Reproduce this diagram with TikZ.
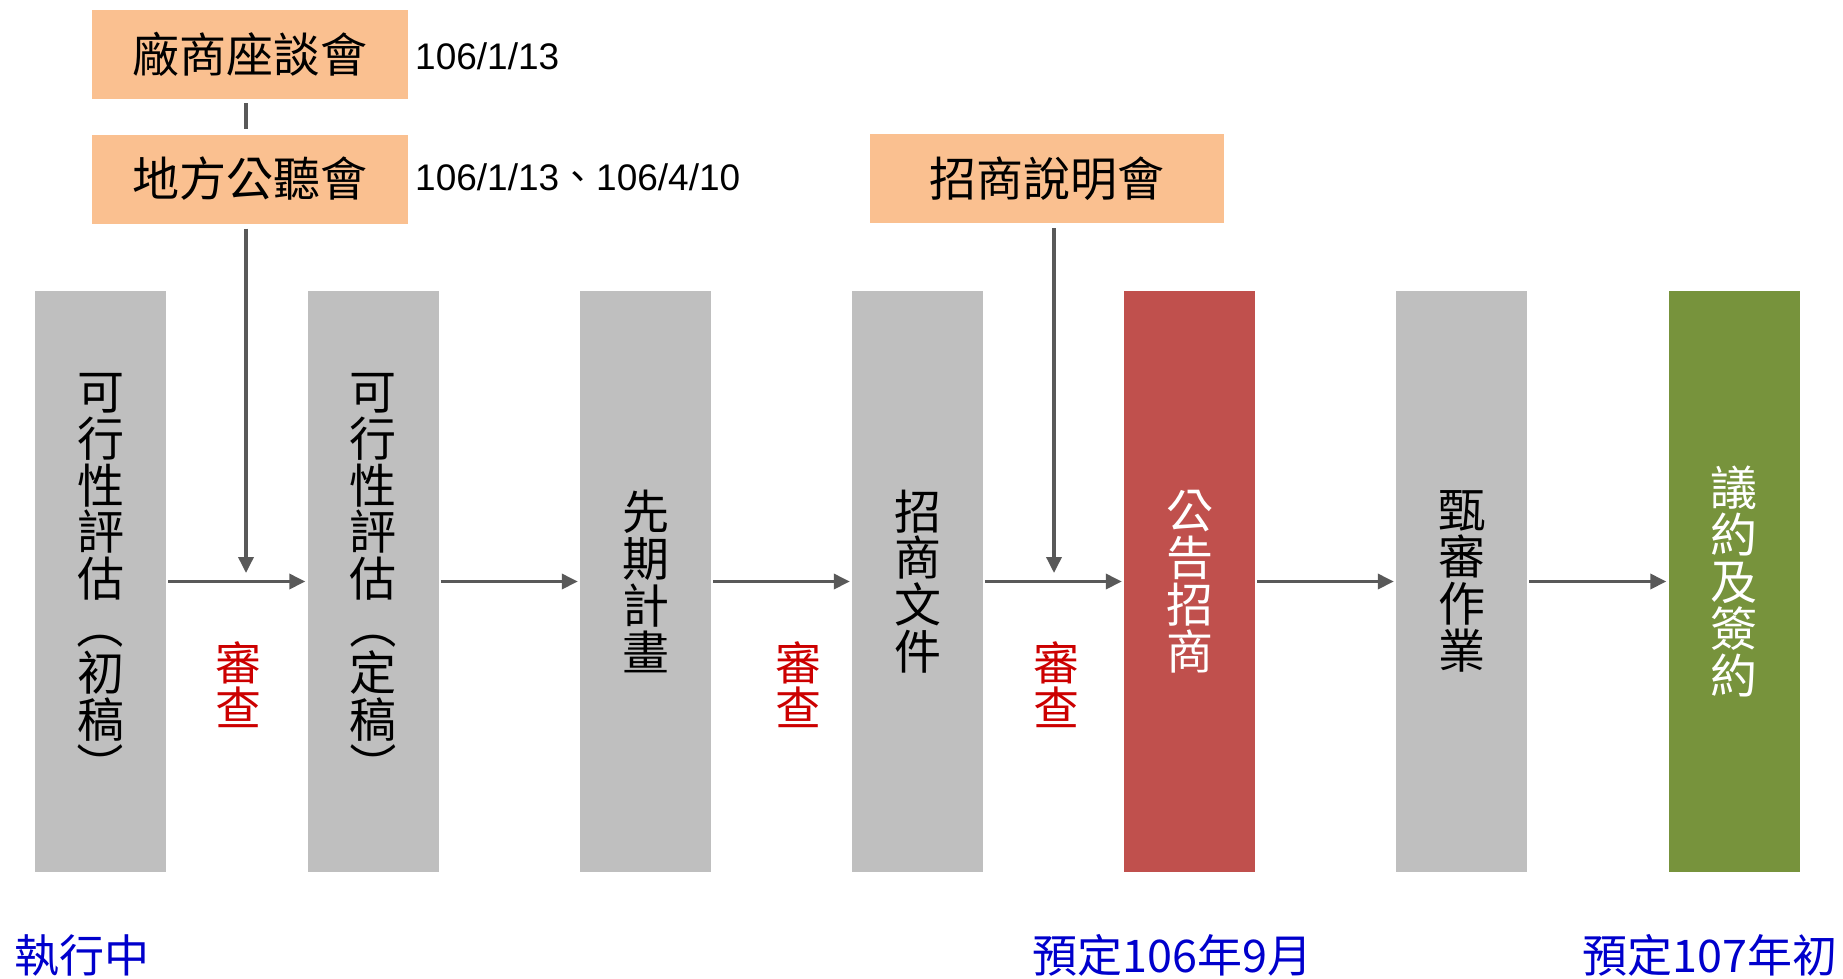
\documentclass[tikz,border=0pt]{standalone}
\usepackage{fontspec}
\usepackage{graphicx}
\usetikzlibrary{arrows.meta,calc}
\setmainfont{Noto Sans CJK TC}
\newfontfamily\cjk{Noto Sans CJK TC}
\newfontfamily\arial{Liberation Sans}
\newcommand{\vlp}{\rotatebox[origin=c]{-90}{（}}
\newcommand{\vrp}{\rotatebox[origin=c]{-90}{）}}
\definecolor{boxgray}{HTML}{BFBFBF}
\definecolor{boxorange}{HTML}{FAC090}
\definecolor{boxred}{HTML}{C0504D}
\definecolor{boxgreen}{HTML}{77933C}
\definecolor{linegray}{HTML}{595959}
\definecolor{revred}{HTML}{CC0000}
\definecolor{noteblue}{HTML}{0000CC}
\tikzset{
  stage/.style={inner sep=0pt, minimum width=131pt, minimum height=581pt, align=center,
    font=\cjk\fontsize{47}{46.8}\selectfont},
  meet/.style={inner sep=0pt, fill=boxorange, minimum height=89pt,
    font=\cjk\fontsize{47}{47}\selectfont},
  conn/.style={draw=linegray, line width=3.5pt},
  arr/.style={conn, -{Triangle[length=16pt,width=15pt]}},
  datetext/.style={anchor=west, inner sep=0pt, font=\arial\fontsize{37}{37}\selectfont},
  review/.style={inner sep=0pt, align=center, text=revred, font=\cjk\fontsize{46}{45}\selectfont},
  note/.style={inner sep=0pt, text=noteblue, font=\cjk\fontsize{45}{45}\selectfont}
}
\begin{document}
\begin{tikzpicture}[x=1pt,y=-1pt]
\useasboundingbox (0,0) rectangle (1843,978);
% top meeting boxes
\node[meet, minimum width=316pt] (t1) at (250,54.5) {廠商座談會};
\node[meet, minimum width=316pt] (t2) at (250,179) {地方公聽會};
\node[meet, minimum width=354pt] (t3) at (1047,178.5) {招商說明會};
\node[datetext] (d1) at (415,56.5) {106/1/13};
\node[datetext] (d2) at (415,177.5) {106/1/13{\cjk 、}106/4/10};
% stage boxes
\node[stage, fill=boxgray] (b1) at (100.5,581.5) {可\\行\\性\\評\\估\\\vlp\\初\\稿\\\vrp};
\node[stage, fill=boxgray] (b2) at (373,581.5) {可\\行\\性\\評\\估\\\vlp\\定\\稿\\\vrp};
\node[stage, fill=boxgray] (b3) at (645.5,581.5) {先\\期\\計\\畫};
\node[stage, fill=boxgray] (b4) at (917.5,581.5) {招\\商\\文\\件};
\node[stage, fill=boxred, text=white] (b5) at (1189.5,581.5) {公\\告\\招\\商};
\node[stage, fill=boxgray] (b6) at (1461.5,581.5) {甄\\審\\作\\業};
\node[stage, fill=boxgreen, text=white] (b7) at (1734,581.5) {議\\約\\及\\簽\\約};
% connectors
\draw[conn, shorten <=4pt, shorten >=5pt] ([xshift=-4pt]t1.south) -- ([xshift=-4pt]t2.north);
\draw[arr, shorten <=5pt, shorten >=8.5pt] ([xshift=-4pt]t2.south) -- ([xshift=-4pt]t2.south |- b1.east);
\draw[arr, shorten <=5pt, shorten >=8.5pt] ([xshift=7pt]t3.south) -- ([xshift=7pt]t3.south |- b4.east);
\draw[arr, shorten <=2pt, shorten >=2pt] (b1.east) -- (b2.west);
\draw[arr, shorten <=2pt, shorten >=2pt] (b2.east) -- (b3.west);
\draw[arr, shorten <=2pt, shorten >=2pt] (b3.east) -- (b4.west);
\draw[arr, shorten <=2pt, shorten >=2pt] (b4.east) -- (b5.west);
\draw[arr, shorten <=2pt, shorten >=2pt] (b5.east) -- (b6.west);
\draw[arr, shorten <=2pt, shorten >=2pt] (b6.east) -- (b7.west);
% review labels
\node[review] (r1) at (238.5,685) {審\\查};
\node[review] (r2) at (798.5,685) {審\\查};
\node[review] (r3) at (1056,685) {審\\查};
% bottom notes
\node[note, anchor=west] (n1) at (14,955) {執行中};
\node[note, anchor=west] (n2) at (1032,955) {預定106年9月};
\node[note, anchor=east] (n3) at (1838,955) {預定107年初};
\end{tikzpicture}
\end{document}
